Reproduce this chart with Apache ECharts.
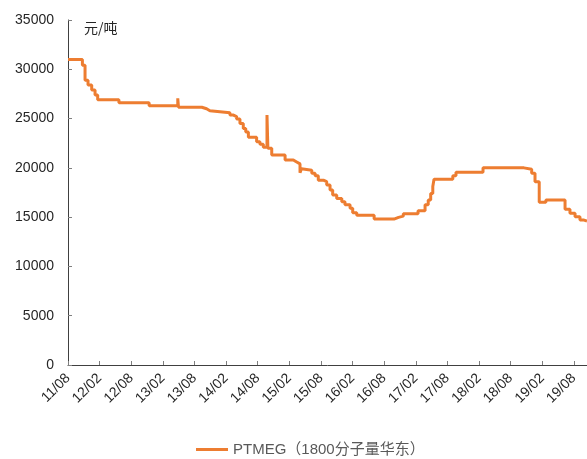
<!DOCTYPE html>
<html>
<head>
<meta charset="utf-8">
<script src="https://cdn.jsdelivr.net/npm/echarts@6/dist/echarts.min.js"></script>
<style>
html,body{margin:0;padding:0;background:#fff;}
#c{width:587px;height:459px;}
</style>
</head>
<body>
<div id="c"></div>
<script>
// Dates where each price level starts (step chart)
const dates = [
  '2011-08-01','2011-10-23','2011-11-08','2011-11-25','2011-12-16','2012-01-05','2012-01-20',
  '2012-05-21','2012-11-13','2013-04-26','2013-04-30','2013-09-13','2013-10-10','2013-10-29',
  '2014-02-23','2014-03-13','2014-04-01','2014-04-20','2014-05-09','2014-05-23','2014-06-08',
  '2014-07-25','2014-08-14','2014-09-03','2014-09-24','2014-09-29','2014-10-21','2015-01-07',
  '2015-02-24','2015-03-13','2015-04-02','2015-04-10','2015-04-19','2015-06-09','2015-06-28',
  '2015-07-16','2015-08-15','2015-09-04','2015-09-23','2015-10-08','2015-11-01','2015-11-30',
  '2015-12-18','2016-01-17','2016-02-02','2016-02-25','2016-06-04','2016-09-27','2016-10-23',
  '2016-11-20','2017-02-14','2017-03-24','2017-04-12','2017-04-26','2017-05-08','2017-05-15',
  '2017-09-02','2017-09-20','2018-02-24','2018-10-17','2018-12-01','2018-12-20','2019-01-14',
  '2019-02-22','2019-06-11','2019-07-09','2019-08-08','2019-09-06','2019-09-29','2019-10-16'
];
const prices = [
  31000,30400,28900,28400,27900,27400,26900,
  26600,26300,27050,26150,26000,25800,25600,
  25350,25200,24950,24500,24000,23650,23100,
  22650,22400,22100,25350,22000,21300,20800,
  20600,20400,19500,19900,19750,19450,19200,
  18750,18600,18250,17750,17250,16900,16550,
  16250,15900,15450,15200,14800,14980,15100,
  15350,15650,16250,16750,17400,18100,18850,
  19200,19550,20000,19850,19450,18600,16500,
  16750,15800,15400,15050,14700,14600,14600
];
const seriesName = 'PTMEG（1800分子量华东）';
const unitLabel = '元/吨';
const yTicks = { min: 0, max: 35000, interval: 5000 };
const startYear = 2011, startMonth = 8;

function monthOffset(s) {
  const [y, m, d] = s.split('-').map(Number);
  return (y - startYear) * 12 + (m - startMonth) + (d - 1) / 30;
}
const data = dates.map((d, i) => [monthOffset(d), prices[i]]);

const chart = echarts.init(document.getElementById('c'));
const font = '"Liberation Sans", Arial, "Noto Sans CJK SC", sans-serif';
chart.setOption({
  animation: false,
  textStyle: { fontFamily: font },
  grid: { left: 68, right: 0, top: 20, bottom: 94, containLabel: false },
  graphic: [{
    type: 'text', left: 84, top: 21,
    style: { text: unitLabel, font: '14px "Noto Sans CJK SC", sans-serif', fill: '#262626' }
  }],
  legend: {
    left: 191, top: 437,
    icon: 'rect', itemWidth: 32, itemHeight: 3, itemGap: 4,
    textStyle: { color: '#595959', fontSize: 15, fontFamily: '"Liberation Sans", "Noto Sans CJK SC", sans-serif' },
    data: [seriesName]
  },
  xAxis: {
    type: 'value', min: 0, max: 98.5, interval: 6,
    axisLine: { show: true, lineStyle: { color: '#404040', width: 1 } },
    axisTick: { show: true, inside: true, length: 4, lineStyle: { color: '#7f7f7f' } },
    splitLine: { show: false },
    axisLabel: {
      rotate: 45, margin: 11, fontSize: 14, color: '#262626', fontFamily: font,
      showMaxLabel: false,
      formatter: function (v) {
        if (Math.abs(v % 6) > 1e-6) return '';
        const tot = startMonth - 1 + v;
        const yy = (startYear + Math.floor(tot / 12)) % 100;
        const mm = tot % 12 + 1;
        return String(yy).padStart(2, '0') + '/' + String(mm).padStart(2, '0');
      }
    }
  },
  yAxis: {
    type: 'value', min: yTicks.min, max: yTicks.max, interval: yTicks.interval,
    axisLine: { show: true, lineStyle: { color: '#404040', width: 1 } },
    axisTick: { show: true, inside: true, length: 4, lineStyle: { color: '#7f7f7f' } },
    splitLine: { show: false },
    axisLabel: { fontSize: 14, color: '#262626', margin: 14, fontFamily: font,
      formatter: function (v) { return String(v); } }
  },
  series: [{
    name: seriesName, type: 'line', step: 'end', symbol: 'none',
    data: data,
    lineStyle: { color: '#ED7D31', width: 3 },
    itemStyle: { color: '#ED7D31' }
  }]
});
</script>
</body>
</html>
